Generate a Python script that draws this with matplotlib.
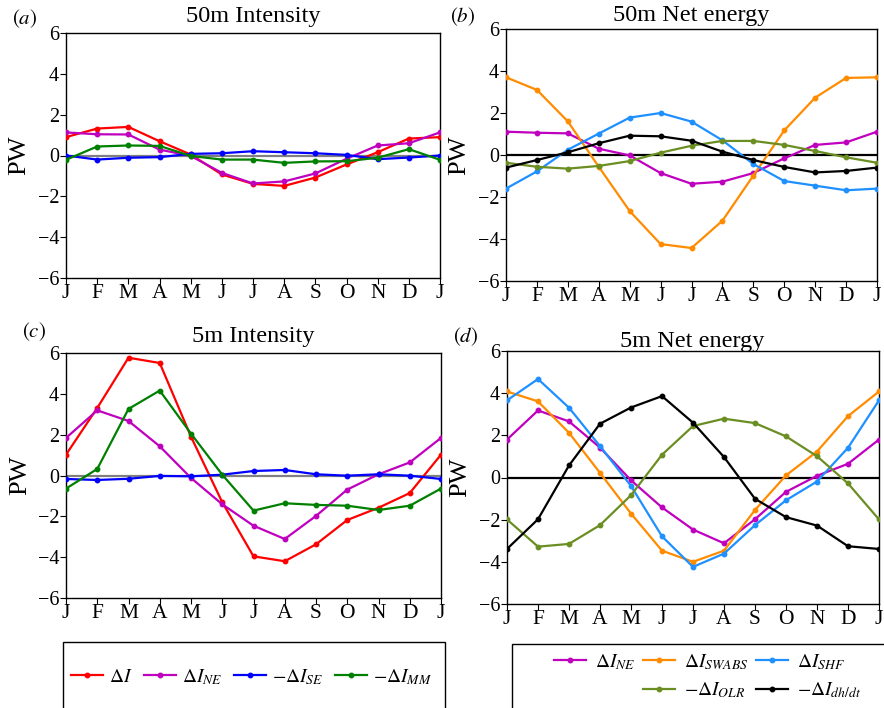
import numpy as np
import matplotlib
matplotlib.use("Agg")
import matplotlib.pyplot as plt
from matplotlib.lines import Line2D
from matplotlib.patches import Rectangle

plt.rcParams["font.family"] = ["Liberation Serif", "DejaVu Serif"]
plt.rcParams["mathtext.fontset"] = "stix"

months = ["J", "F", "M", "A", "M", "J", "J", "A", "S", "O", "N", "D", "J"]

# 50m intensity budget (PW)
a_dI = [0.90, 1.32, 1.40, 0.70, 0.05, -0.93, -1.39, -1.49, -1.08, -0.44, 0.16, 0.83, 0.90]
a_NE = [1.13, 1.04, 1.03, 0.29, -0.02, -0.85, -1.37, -1.27, -0.88, -0.16, 0.49, 0.60, 1.13]
a_SE = [0.00, -0.20, -0.11, -0.08, 0.08, 0.11, 0.21, 0.16, 0.11, 0.03, -0.18, -0.10, 0.00]
a_MM = [-0.21, 0.44, 0.49, 0.47, -0.02, -0.20, -0.20, -0.36, -0.29, -0.28, -0.11, 0.31, -0.21]

# 50m net energy terms (PW)
b_NE = [1.11, 1.06, 1.03, 0.30, -0.02, -0.86, -1.37, -1.27, -0.86, -0.16, 0.48, 0.60, 1.11]
b_SWABS = [3.70, 3.10, 1.60, -0.56, -2.67, -4.24, -4.43, -3.13, -0.98, 1.17, 2.73, 3.67, 3.70]
b_SHF = [-1.60, -0.78, 0.25, 1.02, 1.78, 2.00, 1.59, 0.70, -0.43, -1.24, -1.46, -1.68, -1.60]
b_OLR = [-0.37, -0.56, -0.65, -0.52, -0.29, 0.11, 0.44, 0.67, 0.67, 0.48, 0.19, -0.11, -0.37]
b_DHDT = [-0.60, -0.24, 0.13, 0.56, 0.92, 0.89, 0.68, 0.16, -0.24, -0.57, -0.83, -0.76, -0.60]

# 5m intensity budget (PW)
c_dI = [1.02, 3.31, 5.77, 5.51, 1.90, -1.31, -3.96, -4.20, -3.37, -2.18, -1.58, -0.86, 1.02]
c_NE = [1.84, 3.19, 2.67, 1.43, -0.12, -1.41, -2.46, -3.11, -1.98, -0.69, 0.06, 0.64, 1.84]
c_SE = [-0.17, -0.22, -0.16, -0.02, -0.04, 0.04, 0.22, 0.27, 0.06, -0.01, 0.06, -0.01, -0.17]
c_MM = [-0.64, 0.32, 3.26, 4.16, 2.05, 0.04, -1.72, -1.36, -1.44, -1.48, -1.69, -1.48, -0.64]

# 5m net energy terms (PW)
d_NE = [1.80, 3.18, 2.66, 1.42, -0.13, -1.42, -2.47, -3.12, -1.98, -0.68, 0.08, 0.65, 1.80]
d_SWABS = [4.08, 3.61, 2.12, 0.22, -1.71, -3.47, -4.00, -3.47, -1.54, 0.10, 1.23, 2.91, 4.08]
d_SHF = [3.66, 4.67, 3.31, 1.49, -0.40, -2.79, -4.24, -3.61, -2.26, -1.08, -0.19, 1.41, 3.66]
d_OLR = [-1.99, -3.28, -3.15, -2.26, -0.84, 1.08, 2.44, 2.79, 2.58, 1.95, 1.01, -0.28, -1.99]
d_DHDT = [-3.39, -1.98, 0.57, 2.55, 3.32, 3.86, 2.60, 0.97, -1.01, -1.88, -2.28, -3.26, -3.39]

C_I, C_NE, C_SE, C_MM = "red", "#bf00bf", "blue", "green"
C_SW, C_SHF, C_OLR, C_DH = "darkorange", "dodgerblue", "olivedrab", "black"

W, H = 884, 708
fig = plt.figure(figsize=(W / 100, H / 100), dpi=100)


def px_axes(left, right, top, bottom):
    return fig.add_axes([left / W, 1 - bottom / H, (right - left) / W, (bottom - top) / H])


def style(ax, zero_color, label_x):
    x = np.arange(len(months))
    ax.axhline(0, color=zero_color, lw=1.6, zorder=1)
    ax.set_xlim(0, 12)
    ax.set_ylim(-6, 6)
    ax.set_xticks(x)
    ax.set_xticklabels(months)
    ax.set_yticks(np.arange(-6, 7, 2))
    ax.tick_params(axis="x", labelsize=15.5, length=4, pad=0.5)
    ax.tick_params(axis="y", labelsize=14.5, length=4, pad=1)
    for s in ax.spines.values():
        s.set_linewidth(1.0)
    ax.set_ylabel("PW", fontsize=19)
    ax.yaxis.set_label_coords(label_x, 0.5)


def series(ax, y, color):
    return ax.plot(np.arange(len(y)), y, color=color, lw=1.6, marker="o", ms=3.2, zorder=3)[0]


ax_a = px_axes(66, 440, 33, 278)
style(ax_a, "gray", -0.095)
h_I = series(ax_a, a_dI, C_I)
h_NE = series(ax_a, a_NE, C_NE)
h_SE = series(ax_a, a_SE, C_SE)
h_MM = series(ax_a, a_MM, C_MM)

ax_b = px_axes(506, 877, 29, 281)
style(ax_b, "black", -0.097)
hb_NE = series(ax_b, b_NE, C_NE)
h_SW = series(ax_b, b_SWABS, C_SW)
h_SHF = series(ax_b, b_SHF, C_SHF)
h_OLR = series(ax_b, b_OLR, C_OLR)
h_DH = series(ax_b, b_DHDT, C_DH)

ax_c = px_axes(66, 441, 353, 598)
style(ax_c, "gray", -0.092)
series(ax_c, c_dI, C_I)
series(ax_c, c_NE, C_NE)
series(ax_c, c_SE, C_SE)
series(ax_c, c_MM, C_MM)

ax_d = px_axes(507, 879, 351, 604)
style(ax_d, "black", -0.097)
series(ax_d, d_NE, C_NE)
series(ax_d, d_SWABS, C_SW)
series(ax_d, d_SHF, C_SHF)
series(ax_d, d_OLR, C_OLR)
series(ax_d, d_DHDT, C_DH)

# panel titles and letters
titles = [("50m Intensity", 253, 22), ("50m Net energy", 691, 21),
          ("5m Intensity", 253, 342), ("5m Net energy", 692, 347)]
for t, x, y in titles:
    fig.text(x / W, 1 - y / H, t, ha="center", va="baseline", fontsize=17.5)
letters = [("(a)", 12, 24), ("(b)", 450, 22), ("(c)", 22, 337), ("(d)", 453, 342)]
for t, x, y in letters:
    fig.text(x / W, 1 - y / H, "$(" + t[1] + ")$", ha="left", va="baseline", fontsize=15)

# legend frames run past the bottom edge of the figure
fig.add_artist(Rectangle((63 / W, -10 / H), (445 - 63) / W, (708 - 642 + 10) / H,
                         transform=fig.transFigure, fill=False, ec="black", lw=1.0))
fig.add_artist(Rectangle((512 / W, -10 / H), 400 / W, (708 - 644 + 10) / H,
                         transform=fig.transFigure, fill=False, ec="black", lw=1.0))

fig.legend([h_I, h_NE, h_SE, h_MM],
           [r"$\Delta I$", r"$\Delta I_{NE}$", r"$-\Delta I_{SE}$", r"$-\Delta I_{MM}$"],
           loc="center left", bbox_to_anchor=(71 / W, 1 - 677 / H), ncol=4,
           frameon=False, borderpad=0, borderaxespad=0, fontsize=14,
           handlelength=1.65, handletextpad=0.3, columnspacing=0.6)

blank = Line2D([], [], linestyle="none")
fig.legend([hb_NE, blank, h_SW, h_OLR, h_SHF, h_DH],
           [r"$\Delta I_{NE}$", "", r"$\Delta I_{SWABS}$", r"$-\Delta I_{OLR}$",
            r"$\Delta I_{SHF}$", r"$-\Delta I_{dh/dt}$"],
           loc="upper left", bbox_to_anchor=(554 / W, 1 - 652 / H), ncol=3,
           frameon=False, borderpad=0, borderaxespad=0, fontsize=14,
           handlelength=1.65, handletextpad=0.45, columnspacing=0.4, labelspacing=0.45)

fig.savefig("out.png", dpi=100)
